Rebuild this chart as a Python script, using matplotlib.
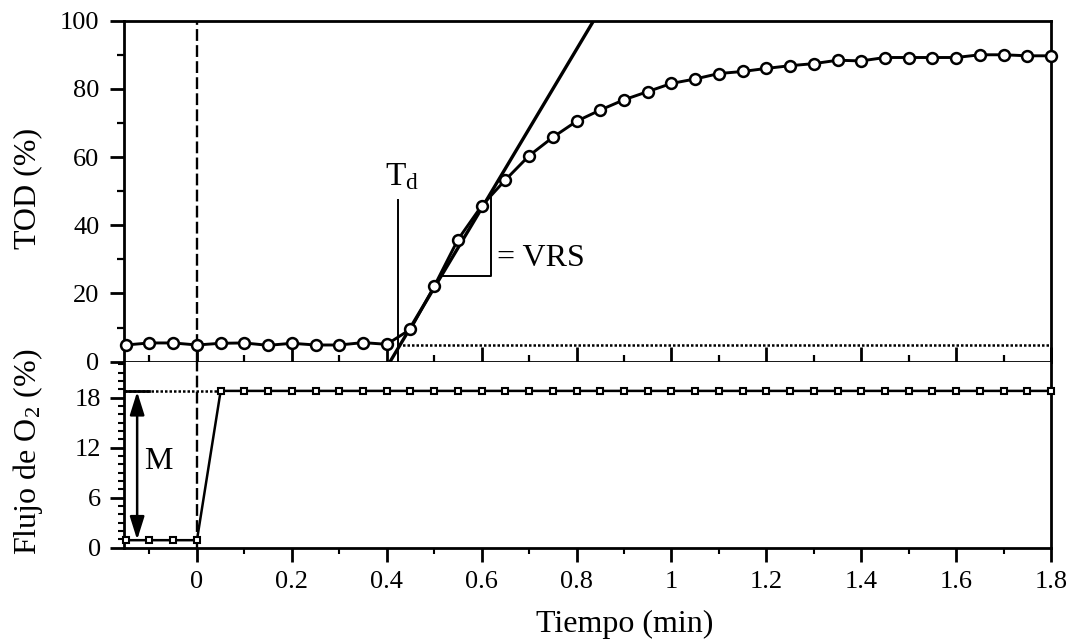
import matplotlib.pyplot as plt
from matplotlib.ticker import MultipleLocator

plt.rcParams['font.family'] = ['Liberation Serif', 'DejaVu Serif']
plt.rcParams['mathtext.fontset'] = 'stix'

# ---- data ----
tiempo = [-0.15, -0.10, -0.05, 0.00, 0.05, 0.10, 0.15, 0.20, 0.25, 0.30,
          0.35, 0.40, 0.45, 0.50, 0.55, 0.60, 0.65, 0.70, 0.75, 0.80,
          0.85, 0.90, 0.95, 1.00, 1.05, 1.10, 1.15, 1.20, 1.25, 1.30,
          1.35, 1.40, 1.45, 1.50, 1.55, 1.60, 1.65, 1.70, 1.75, 1.80]

tod = [4.9, 5.5, 5.5, 4.9, 5.4, 5.5, 4.8, 5.4, 4.9, 4.9,
       5.6, 5.1, 9.5, 22.1, 35.8, 45.7, 53.3, 60.4, 65.8, 70.5,
       73.8, 76.8, 79.2, 81.6, 82.9, 84.5, 85.1, 86.0, 86.8, 87.4,
       88.4, 88.2, 89.2, 89.2, 89.2, 89.2, 90.0, 90.0, 89.7, 89.7]

flujo = [0.9, 0.9, 0.9, 0.9, 18.8, 18.8, 18.8, 18.8, 18.8, 18.8,
         18.8, 18.8, 18.8, 18.8, 18.8, 18.8, 18.8, 18.8, 18.8, 18.8,
         18.8, 18.8, 18.8, 18.8, 18.8, 18.8, 18.8, 18.8, 18.8, 18.8,
         18.8, 18.8, 18.8, 18.8, 18.8, 18.8, 18.8, 18.8, 18.8, 18.8]

# annotations (tangent at inflection, dead time, baseline)
tangent_x0 = 0.407      # where tangent crosses 0 %
tangent_x1 = 0.836      # where tangent reaches 100 %
td = 0.423
baseline = 5.0
vrs_x = [0.516, 0.620]
vrs_y = [25.1, 48.5]
m_x = -0.126

xmin, xmax = -0.153, 1.8

fig = plt.figure(figsize=(10.7, 6.42), dpi=100)
ax1 = fig.add_axes([0.1162, 0.4366, 0.8661, 0.5312])
ax2 = fig.add_axes([0.1162, 0.1469, 0.8661, 0.2897])

spine_lw = 2.0
for ax in (ax1, ax2):
    for s in ax.spines.values():
        s.set_linewidth(spine_lw)
    ax.set_xlim(xmin, xmax)
    ax.axvline(0, color='black', lw=1.7, ls=(0, (5, 1.8)), zorder=1)

# ---- top panel ----
ax1.plot([tangent_x0, tangent_x1], [0, 100], color='black', lw=2.4, zorder=2)
ax1.plot([td, td], [0, 47.3], color='black', lw=1.4)
ax1.plot([td, xmax], [baseline, baseline], color='black', lw=1.8,
         ls=(0, (1, 0.8)))
ax1.plot([vrs_x[0], vrs_x[1], vrs_x[1]], [vrs_y[0], vrs_y[0], vrs_y[1]],
         color='black', lw=1.4)
ax1.plot(tiempo, tod, color='black', lw=2.1, marker='o', ms=7.8,
         mfc='white', mec='black', mew=1.8, clip_on=False, zorder=3)
ax1.text(0.396, 49.5, r'T$_\mathregular{d}$', fontsize=24, ha='left', va='bottom')
ax1.text(0.632, 30.3, '= VRS', fontsize=23, ha='left', va='center')

ax1.set_ylim(0, 100)
ax1.yaxis.set_major_locator(MultipleLocator(20))
ax1.yaxis.set_minor_locator(MultipleLocator(10))
ax1.xaxis.set_major_locator(MultipleLocator(0.2))
ax1.xaxis.set_minor_locator(MultipleLocator(0.1))
ax1.tick_params(axis='y', which='major', direction='out', length=10, width=2.0,
                labelsize=19, pad=8)
ax1.tick_params(axis='y', which='minor', direction='out', length=5, width=1.6)
ax1.tick_params(axis='x', which='major', direction='in', length=11, width=2.0,
                labelbottom=False)
ax1.tick_params(axis='x', which='minor', direction='in', length=5, width=1.6)

# ---- bottom panel ----
ax2.plot([xmin, 0.05], [18.8, 18.8], color='black', lw=1.8, ls=(0, (1, 0.8)))
ax2.plot([xmin, -0.1], [18.8, 18.8], color='black', lw=2.0)
ax2.plot(tiempo, flujo, color='black', lw=1.8, marker='s', ms=4.4,
         mfc='white', mec='black', mew=1.5, clip_on=False, zorder=3)
ax2.annotate('', xy=(m_x, 18.7), xytext=(m_x, 0.95),
             arrowprops=dict(arrowstyle='<|-|>,head_length=0.7,head_width=0.22',
                             color='black', lw=1.8, mutation_scale=20,
                             shrinkA=0, shrinkB=0))
ax2.text(-0.112, 10.3, 'M', fontsize=23, ha='left', va='center')

ax2.set_ylim(0, 22.3)
ax2.spines['top'].set_visible(False)
ax2.yaxis.set_major_locator(MultipleLocator(6))
ax2.yaxis.set_minor_locator(MultipleLocator(1))
ax2.xaxis.set_major_locator(MultipleLocator(0.2))
ax2.xaxis.set_minor_locator(MultipleLocator(0.1))
ax2.set_xticks([0, 0.2, 0.4, 0.6, 0.8, 1.0, 1.2, 1.4, 1.6, 1.8])
ax2.set_xticklabels(['0', '0.2', '0.4', '0.6', '0.8', '1', '1.2', '1.4', '1.6', '1.8'])
ax2.tick_params(axis='both', which='major', direction='out', length=10,
                width=2.0, labelsize=19, pad=7)
ax2.tick_params(axis='both', which='minor', direction='out', length=4, width=1.5)

fig.text(28 / 1070, 1 - 188 / 642, 'TOD (%)', rotation=90, fontsize=23,
         ha='center', va='center')
fig.text(28 / 1070, 1 - 452 / 642, r'Flujo de O$_\mathregular{2}$ (%)',
         rotation=90, fontsize=23, ha='center', va='center')
fig.text(625 / 1070, 1 - 624 / 642, 'Tiempo (min)', fontsize=23,
         ha='center', va='center')

fig.savefig('out.png', dpi=100)
